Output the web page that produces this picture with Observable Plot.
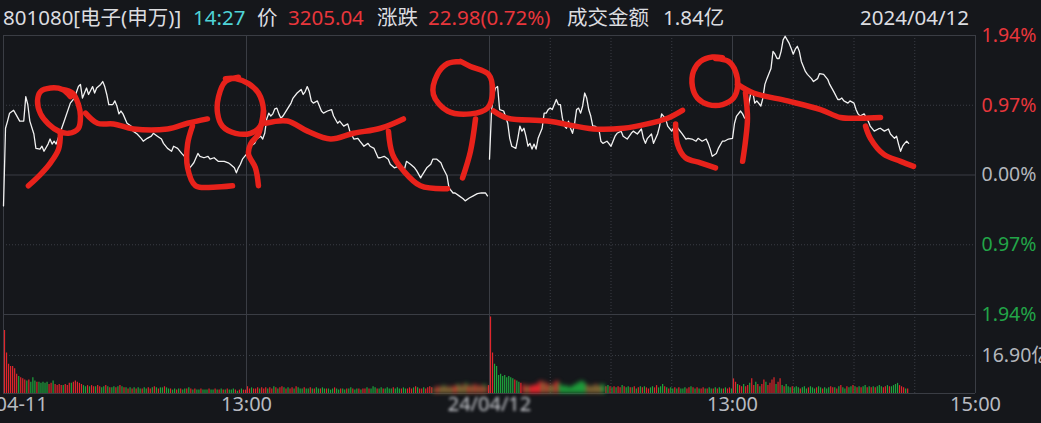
<!DOCTYPE html>
<html><head><meta charset="utf-8">
<script src="https://cdn.jsdelivr.net/npm/d3@7"></script>
<script src="https://cdn.jsdelivr.net/npm/@observablehq/plot@0.6"></script>
<style>
html,body{margin:0;padding:0;background:#15171b;width:1041px;height:423px;overflow:hidden;}
#header{position:absolute;left:0;top:0;width:1041px;height:33px;font-family:"Noto Sans","Noto Sans CJK SC",sans-serif;font-size:20.5px;line-height:34px;white-space:nowrap;color:#dcdde0;}
#header span{position:absolute;top:0;}
#price{position:absolute;left:0;top:33px;}
#vol{position:absolute;left:0;top:314px;}
</style></head>
<body>
<div id="header"></div>
<div id="price"></div>
<div id="vol"></div>
<script>
// ---------- data ----------
const headerTexts = ["801080[电子(申万)]","14:27","价","3205.04","涨跌","22.98(0.72%)","成交金额","1.84亿","2024/04/12"];
const headerLeft  = [3,193,257,288,377,428,567,663,860];
const headerColor = ["#dcdde0","#4fd3d6","#dcdde0","#e8363b","#dcdde0","#e8363b","#dcdde0","#dcdde0","#dcdde0"];

// minute index (0-240 day 1, 240-480 day 2) and % change
const d1T = [0,1,2,3,5,6,8,10,11,12,
13,15,16,18,19,20,22,23,24,25,
26,27,30,33,35,37,38,39,40,41,
42,44,45,46,48,49,50,51,52,54,
55,56,57,58,59,61,63,64,66,68,
69,71,73,74,76,78,79,81,83,84,
86,88,90,91,92,94,96,97,99,101,
102,104,106,109,111,112,114,115,116,117,
118,120,121,122,124,125,127,128,129,130,
131,132,133,134,135,136,137,138,140,142,
143,145,147,148,149,150,151,152,153,155,
157,158,160,162,163,165,166,168,170,171,
173,175,176,178,180,181,183,185,186,188,
190,191,193,195,196,198,199,201,203,204,
206,207,209,211,212,214,216,217,219,220,
222,223,225,227,228,230,232,234,236,238,
239];
const d1P = [-0.43,0.65,0.75,0.86,0.90,0.85,0.75,0.75,1.09,0.98,
0.75,0.57,0.37,0.36,0.40,0.33,0.43,0.50,0.43,0.47,
0.43,0.51,0.75,1.00,1.07,1.23,1.26,1.07,1.14,1.21,
1.12,1.23,1.14,1.21,1.26,1.30,1.23,1.12,0.98,0.98,
1.03,0.96,0.85,0.89,0.85,0.72,0.68,0.61,0.57,0.51,
0.47,0.51,0.54,0.58,0.54,0.50,0.44,0.37,0.33,0.40,
0.37,0.30,0.24,0.19,0.10,0.17,0.30,0.26,0.24,0.26,
0.22,0.24,0.19,0.19,0.17,0.15,0.10,0.03,0.10,0.15,
0.22,0.29,0.33,0.40,0.44,0.50,0.54,0.50,0.58,0.78,
0.86,0.82,0.85,0.92,0.93,0.85,0.79,0.82,0.91,1.00,
1.07,1.14,1.19,1.12,1.16,1.23,1.16,1.03,1.00,1.03,
0.89,0.86,0.89,0.91,0.82,0.72,0.75,0.68,0.71,0.61,
0.50,0.51,0.47,0.40,0.44,0.40,0.37,0.24,0.24,0.26,
0.22,0.15,0.10,0.12,0.10,0.08,0.19,0.15,0.10,0.06,
-0.04,0.01,0.10,0.15,0.22,0.22,0.17,0.10,-0.01,-0.18,
-0.25,-0.25,-0.29,-0.33,-0.36,-0.32,-0.29,-0.26,-0.25,-0.25,
-0.29];
const d2T = [240,241,242,243,244,245,247,249,250,251,
253,254,255,256,257,258,259,260,261,262,
263,264,265,266,267,268,269,270,271,272,
273,274,275,276,277,278,279,280,281,282,
283,284,285,286,287,288,289,290,291,292,
294,295,296,298,300,301,302,303,305,306,
308,310,311,313,315,316,317,318,320,321,
323,324,325,327,328,330,332,333,335,337,
338,340,342,343,345,347,348,349,350,352,
353,355,356,358,360,361,362,364,365,366,
367,369,370,371,372,374,375,376,377,379,
380,381,382,383,384,385,386,387,388,389,
390,391,392,393,394,395,396,397,399,400,
402,403,405,407,408,410,412,413,414,415,
417,418,420,421,422,423,425,427,428,430,
432,433,435,437,438,440,441,442,443,444,
445,446,447];
const d2P = [0.22,0.89,1.12,1.21,1.23,0.91,0.89,0.72,0.51,0.40,
0.37,0.51,0.68,0.61,0.65,0.54,0.40,0.44,0.36,0.43,
0.36,0.51,0.58,0.65,0.86,0.86,0.91,0.93,0.91,0.98,
1.05,0.98,0.98,0.79,0.68,0.65,0.75,0.65,0.58,0.71,
0.91,0.93,0.86,0.96,1.14,1.07,0.91,0.82,0.68,0.68,
0.64,0.47,0.44,0.47,0.40,0.47,0.54,0.58,0.61,0.54,
0.50,0.58,0.61,0.57,0.64,0.51,0.44,0.51,0.57,0.44,
0.57,0.68,0.85,0.78,0.68,0.61,0.71,0.65,0.58,0.50,
0.51,0.50,0.47,0.51,0.47,0.50,0.44,0.36,0.26,0.30,
0.37,0.47,0.47,0.50,0.51,0.72,0.82,0.89,0.85,0.79,
0.82,1.14,1.16,1.00,1.03,0.96,1.07,1.26,1.34,1.48,
1.72,1.68,1.62,1.62,1.72,1.88,1.93,1.88,1.83,1.76,
1.68,1.75,1.79,1.72,1.58,1.51,1.44,1.40,1.34,1.30,
1.34,1.41,1.40,1.33,1.26,1.16,1.05,1.05,1.07,1.03,
1.00,1.03,1.00,0.91,0.85,0.82,0.85,0.75,0.68,0.61,
0.64,0.65,0.61,0.64,0.57,0.51,0.54,0.43,0.33,0.40,
0.44,0.47,0.44];

// hand-drawn red annotation strokes, as [minute, %] points
const strokes = [
 [[29.1,1.19],[34.1,1.14],[37,0.98],[38,0.82],[37,0.65],[32.1,0.58],[27.2,0.61],[22.2,0.71],[18.3,0.85],[16.8,1.03],[18.3,1.16],[23.2,1.21],[29.1,1.19],[33.1,1.09]],
 [[28.1,0.58],[27.2,0.36],[23.2,0.17],[18.3,0.01],[12.3,-0.15]],
 [[40.5,0.86],[46.4,0.72],[54.3,0.71],[64.2,0.64],[81,0.64],[90.9,0.72],[100.7,0.78]],
 [[93.3,0.68],[90.9,0.43],[90.9,0.10],[94.8,-0.15],[103.7,-0.17],[113.1,-0.15]],
 [[116,1.36],[109.6,1.30],[106.2,1.09],[105.7,0.86],[108.1,0.68],[114.6,0.58],[122,0.58],[126.9,0.68],[128.4,0.89],[125.9,1.14],[121,1.27],[114.6,1.34],[109.6,1.34]],
 [[128.4,0.89],[127.9,0.79],[125.9,0.57],[122,0.43],[121,0.29],[124.4,0.10],[125.9,-0.15]],
 [[129.4,0.72],[140.2,0.75],[150.1,0.61],[161.5,0.50],[172.8,0.58],[186.2,0.65],[197.5,0.78]],
 [[190.1,0.61],[192.1,0.29],[197.5,0.06],[205.9,-0.15],[219.3,-0.19]],
 [[225.7,1.58],[230.6,1.51],[239.5,1.40],[241.5,1.16],[239,0.93],[230.6,0.85],[219.3,0.89],[212.3,1.12],[214.3,1.40],[219.3,1.55],[225.7,1.58]],
 [[233.1,0.78],[230.6,0.33],[226.7,-0.04]],
 [[242,0.89],[248.9,0.79],[268.6,0.75],[291.4,0.64],[306.2,0.65],[318,0.71],[327.9,0.79],[335.3,0.90]],
 [[331.9,0.71],[332.8,0.43],[336.8,0.24],[344.2,0.17],[351.6,0.10]],
 [[351.6,1.62],[358,1.58],[361.5,1.44],[362.5,1.23],[360.5,1.07],[355.1,0.98],[348.1,0.98],[342.7,1.07],[340.2,1.23],[340.7,1.44],[344.2,1.58],[350.1,1.64],[355,1.63]],
 [[366.4,1.14],[367.4,0.79],[366.4,0.47],[365,0.19]],
 [[362.5,1.26],[370.4,1.14],[387.2,1.03],[403.5,0.91],[413.3,0.80],[423.2,0.79],[433.1,0.80]],
 [[425.7,0.68],[428.1,0.51],[434.6,0.29],[443,0.19],[449.4,0.12]]
];

// volume per minute (亿), day 1 then day 2, and bar colours (r = up, g = down)
const v1 = [28,18,13,12,12,11,8.5,7.5,7,6.5, 6,5.5,6,5,7,5.5,5,5,4.5,5, 4.5,5,4,4.5,5.5,4,3.5,4,3.5,3.5,
4,3.5,4.5,4.5,5,5.5,5,4.5,4,3.5, 3,3.5,3,3.5,3,3,3.5,3,2.5,3, 3.5,3,2.5,2.5,3,2.5,3,3.5,3,2.5,
2.5,2,2.5,2,2.5,2,2.5,2,2,2.5, 2,2.5,2,2.5,3,2.5,2,2.5,2.5,3, 2.5,2,2,1.5,2,1.5,2,2,1.5,2,
2,2.5,2,1.5,2,1.5,1.5,2,1.5,1.5, 1.5,2,1.5,1.5,2,1.5,1.5,2,1.5,1.5, 2,1.5,1.5,2,1.5,1,1.5,2,1.5,1.5,
3,2,2.5,2,2,2.5,2,2.5,2,2.5, 2,2.5,2,3,2.5,2,2.5,3,2.5,2, 2.5,2,2.5,2,3,2.5,2,2,2.5,2,
2,2.5,2,2,2.5,2,2,2.5,2,2, 2,1.5,2,2.5,2,1.5,2,2,1.5,2, 2,2.5,2,1.5,2,2,1.5,2,2,2.5,
2,2,3,2.5,2,2,2.5,2,2,2.5, 2,2,2.5,2,2.5,2,2,2.5,2,2, 2.5,2,2.5,3,2.5,2,2,2.5,2,2.5,
3,2.5,2,2.5,3,2.5,3,3.5,3,2.5, 3,2.5,3,3.5,4,3.5,3,4,4.5,3.5, 3,3.5,4,3.5,3,3.5,3,4,3,3.5];
const v2 = [34,18,13,12,8,8.5,7.5,8,7,7.5, 7,6.5,6,5.5,5,4.5,4,3.5,3,3.5, 3,3.5,4,3.5,5,5.5,4.5,5,4,3.5,
4,3.5,5,5.5,4.5,3.5,3,3.5,3,2.5, 3,3.5,4,4.5,5,5.5,5,4,3.5,3, 3,3.5,4,3.5,3,4,3.5,3,3.5,3,
2.5,3,2.5,3,2.5,3.5,3,2.5,3,2.5, 2.5,3,2,2.5,3,2.5,3,2.5,2,2.5, 3,2.5,3.5,2.5,3,4,3,2.5,2,2.5,
2,2.5,2,2.5,2,2,2.5,2,2.5,3, 2.5,2,2.5,2,2,2.5,2,2,2.5,2, 2,2.5,2,2.5,2,2,2.5,2,2.5,2,
6.5,5,4,3.5,3,4,3,3.5,4.5,6.5, 3.5,5,4,3,4,6,5,3.5,4.5,6, 7,4,5,6.5,3.5,3,4,3,2.5,3,
2.5,3,2.5,2,2.5,3,2,2.5,3,2.5, 2,2.5,3,2.5,2,2.5,2,2.5,3,2.5, 2.5,2,3,3.5,2.5,2,3,2.5,3,3.5,
3,2.5,3,2.5,3,3.5,2.5,3,2.5,3, 2.5,3,3.5,3,2.5,3,3.5,3,3,3.5, 4,4.5,3.5,3,2.5,2,2];
const c1 = "rrrrrrrgrr rgrgggrggg ggrrgrrrrg rrrgrrrrrg grgrrgrrgg rgrggrgrgr grgrgrggrg grrgrgrggr ggrggrgrgg rgrgrggrgg grggrgrgrg rgggrgrgrr rrgrrrgrrr grrgrgrrgr grrgrgggrg grgrggrggr gggrggrggr ggrggrgrrg rgggrggrgg ggrgggrggr rrgrgrrgrr rrgrrgrgrg rgrrgrgrgr rgrrgrrgrr".replace(/ /g,"");
const c2 = "rrgggggggg ggrggrrrgr rrrrrrgrrg rgrrgggggg ggggggggrg rgrgrggrgr grgrrgrggr grgrgrgrrg grrgggrgrg grgrgggrrg rgrgrrgrgg rgrggrgrrg rrgrrgrrgr rgrgrrgrrr rgrrgrgggr gggrgggrgg grggrgggrr grgrggrggr grgrggrgrg rgggrrgrgg ggrrrgr".replace(/ /g,"");

const pctTicks  = [1.94, 0.97, 0, -0.97, -1.94];
const pctLabels = ["1.94%","0.97%","0.00%","0.97%","1.94%"];
const pctColors = ["#e8363b","#e8363b","#b3b6bc","#22a548","#22a548"];
const volTicks = [16.9], volLabels = ["16.90亿"];
const solidT  = [0, 120, 240, 360, 480];
const dottedT = [270, 300, 330, 390, 420, 450];
const timeT = [0, 120, 240, 360, 480];
const timeLabels = ["04-11","13:00","24/04/12","13:00","15:00"];

// ---------- build ----------
const RED = "#e0262c", GREEN = "#1fa53d", GRID = "#3a3d44", ANNO = "#e8221b";
const FONT = '"Noto Sans","Noto Sans CJK SC",sans-serif';

const hdr = document.getElementById("header");
headerTexts.forEach((t,i)=>{const s=document.createElement("span");s.textContent=t;s.style.left=headerLeft[i]+"px";s.style.color=headerColor[i];hdr.appendChild(s);});

const day1 = d1T.map((t,i)=>({t, p:d1P[i]}));
const day2 = d2T.map((t,i)=>({t, p:d2P[i]}));
const anno = strokes.flatMap((s,id)=>s.map(([t,p])=>({id,t,p})));
const vols = v1.map((v,i)=>({t:i, v, c:c1[i]==="g"?GREEN:RED}))
  .concat(v2.map((v,i)=>({t:240+i, v, c:c2[i]==="g"?GREEN:RED})));
const isBlur = d => (d.t>=212 && d.t<=238) || (d.t>=256 && d.t<=296);

const price = Plot.plot({
  width: 1041, height: 290,
  marginLeft: 3, marginRight: 66, marginTop: 2, marginBottom: 9,
  x: {domain: [0,480], axis: null},
  y: {domain: [-1.94,1.94], axis: null},
  color: {type: "identity"},
  style: {background: "transparent", overflow: "visible", fontFamily: FONT},
  marks: [
    Plot.ruleY([0.97,-0.97], {stroke: GRID, strokeDasharray: "1,2"}),
    Plot.ruleX(dottedT, {stroke: GRID, strokeDasharray: "1,2"}),
    Plot.ruleY([1.94,0,-1.94], {stroke: GRID}),
    Plot.ruleX(solidT, {stroke: GRID}),
    Plot.line(day1, {x:"t", y:"p", stroke:"#f2f2f2", strokeWidth:1.3}),
    Plot.line(day2, {x:"t", y:"p", stroke:"#f2f2f2", strokeWidth:1.3}),
    Plot.line(anno, {x:"t", y:"p", z:"id", stroke:ANNO, strokeWidth:5.5, curve:"catmull-rom", strokeLinecap:"round", strokeLinejoin:"round"}),
    Plot.text(pctTicks, {x: 480, y: d=>d, text:(d,i)=>pctLabels[i], fill:(d,i)=>pctColors[i], dx: 6, textAnchor:"start", fontSize: 19.5})
  ]
});
document.getElementById("price").appendChild(price);

const vol = Plot.plot({
  width: 1041, height: 109,
  marginLeft: 3, marginRight: 66, marginTop: 0, marginBottom: 30,
  x: {domain: [0,480], axis: null},
  y: {domain: [0,35.1], axis: null},
  color: {type: "identity"},
  style: {background: "transparent", overflow: "visible", fontFamily: FONT},
  marks: [
    Plot.ruleY(volTicks, {stroke: GRID, strokeDasharray: "1,2"}),
    Plot.ruleX(dottedT, {stroke: GRID, strokeDasharray: "1,2"}),
    Plot.ruleX(solidT, {stroke: GRID}),
    Plot.ruleY([0], {stroke: GRID}),
    Plot.ruleX(vols.filter(d=>!isBlur(d)), {x: d=>d.t+0.5, y1: 0, y2: "v", stroke: "c", strokeWidth: 1.2}),
    Plot.ruleX(vols.filter(isBlur), {x: d=>d.t+0.5, y1: 0, y2: "v", stroke: "c", strokeWidth: 2.2, ariaDescription: "blurred-bars"}),
    Plot.text(volTicks, {x: 480, y: d=>d, text:(d,i)=>volLabels[i], fill:"#b3b6bc", dx: 6, textAnchor:"start", fontSize: 19.5}),
    Plot.text(timeT.filter((d,i)=>i===0), {x: d=>d, text:(d,i)=>timeLabels[0], frameAnchor:"bottom", dy: 17, dx: -8, textAnchor:"start", fill:"#b8bbc1", fontSize: 20}),
    Plot.text(timeT.filter((d,i)=>i===1||i===3||i===4), {x: d=>d, text: d=>timeLabels[timeT.lastIndexOf(d)], frameAnchor:"bottom", dy: 17, fill:"#b8bbc1", fontSize: 20}),
    Plot.text(timeT.filter((d,i)=>i===2), {x: d=>d, text: d=>timeLabels[2], frameAnchor:"bottom", dy: 17, fill:"#c8cacf", fontSize: 20, ariaDescription: "blurred-date"})
  ]
});
document.getElementById("vol").appendChild(vol);
d3.select(vol).selectAll('[aria-description="blurred-bars"]').style("filter","blur(2px)");
d3.select(vol).selectAll('[aria-description="blurred-date"]').style("filter","blur(1.5px)");
</script>
</body></html>
